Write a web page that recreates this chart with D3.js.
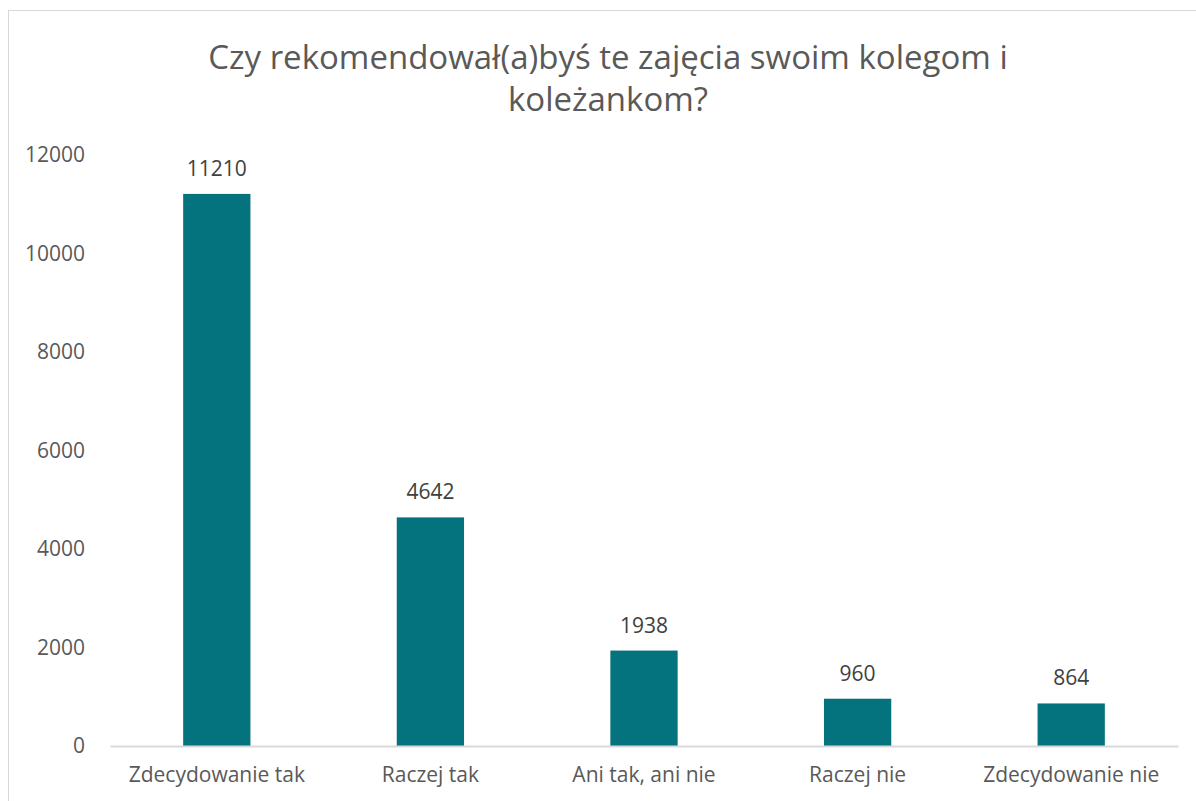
<!DOCTYPE html>
<html>
<head>
<meta charset="utf-8">
<script src="https://cdn.jsdelivr.net/npm/d3@7"></script>
<style>
  body { margin: 0; background: #fff; }
  svg { display: block; font-family: "Open Sans", sans-serif; }
</style>
</head>
<body>
<div id="chart"></div>
<script>
const categories = ["Zdecydowanie tak", "Raczej tak", "Ani tak, ani nie", "Raczej nie", "Zdecydowanie nie"];
const values = [11210, 4642, 1938, 960, 864];
const yTicks = [0, 2000, 4000, 6000, 8000, 10000, 12000];
const titleLines = ["Czy rekomendował(a)byś te zajęcia swoim kolegom i", "koleżankom?"];

const width = 1196, height = 801;
const margin = { left: 110, right: 18, top: 155, bottom: 55 };
const barColor = "#04737e";
const fontFamily = "'Open Sans', sans-serif";

const svg = d3.select("#chart").append("svg")
  .attr("width", width)
  .attr("height", height);

// ramka wykresu
svg.append("rect")
  .attr("x", 8.5).attr("y", 10.5)
  .attr("width", width + 10).attr("height", height + 10)
  .attr("fill", "#fff")
  .attr("stroke", "#d9d9d9");

const x = d3.scaleBand()
  .domain(categories)
  .range([margin.left, width - margin.right])
  .paddingInner(0.685)
  .paddingOuter(0.3425);

const y = d3.scaleLinear()
  .domain([0, 12000])
  .range([height - margin.bottom, margin.top]);

// tytuł
svg.append("text")
  .attr("x", 608)
  .attr("y", 69)
  .attr("text-anchor", "middle")
  .attr("fill", "#595959")
  .attr("font-size", 33)
  .selectAll("tspan")
  .data(titleLines)
  .join("tspan")
  .attr("x", 608)
  .attr("dy", (d, i) => i === 0 ? 0 : 42)
  .text(d => d);

// oś Y (tylko etykiety)
const yAxis = svg.append("g")
  .attr("transform", `translate(${margin.left - 25},0)`)
  .call(d3.axisLeft(y).tickValues(yTicks).tickFormat(d3.format("d")).tickSize(0).tickPadding(0));
yAxis.select(".domain").remove();
yAxis.selectAll("text")
  .attr("fill", "#595959")
  .attr("font-size", 21)
  .attr("font-family", fontFamily);

// słupki
svg.append("g")
  .selectAll("rect")
  .data(values)
  .join("rect")
  .attr("x", (d, i) => x(categories[i]))
  .attr("y", d => y(d))
  .attr("width", x.bandwidth())
  .attr("height", d => y(0) - y(d))
  .attr("fill", barColor);

// etykiety danych
svg.append("g")
  .selectAll("text")
  .data(values)
  .join("text")
  .attr("x", (d, i) => x(categories[i]) + x.bandwidth() / 2)
  .attr("y", d => y(d) - 18)
  .attr("text-anchor", "middle")
  .attr("fill", "#404040")
  .attr("font-size", 21)
  .text(d => d);

// oś X
const xAxis = svg.append("g")
  .attr("transform", `translate(0,${y(0)})`)
  .call(d3.axisBottom(x).tickSize(0).tickPadding(21));
xAxis.select(".domain")
  .attr("stroke", "#d9d9d9")
  .attr("stroke-width", 2);
xAxis.selectAll("text")
  .attr("fill", "#595959")
  .attr("font-size", 21)
  .attr("font-family", fontFamily);
</script>
</body>
</html>
